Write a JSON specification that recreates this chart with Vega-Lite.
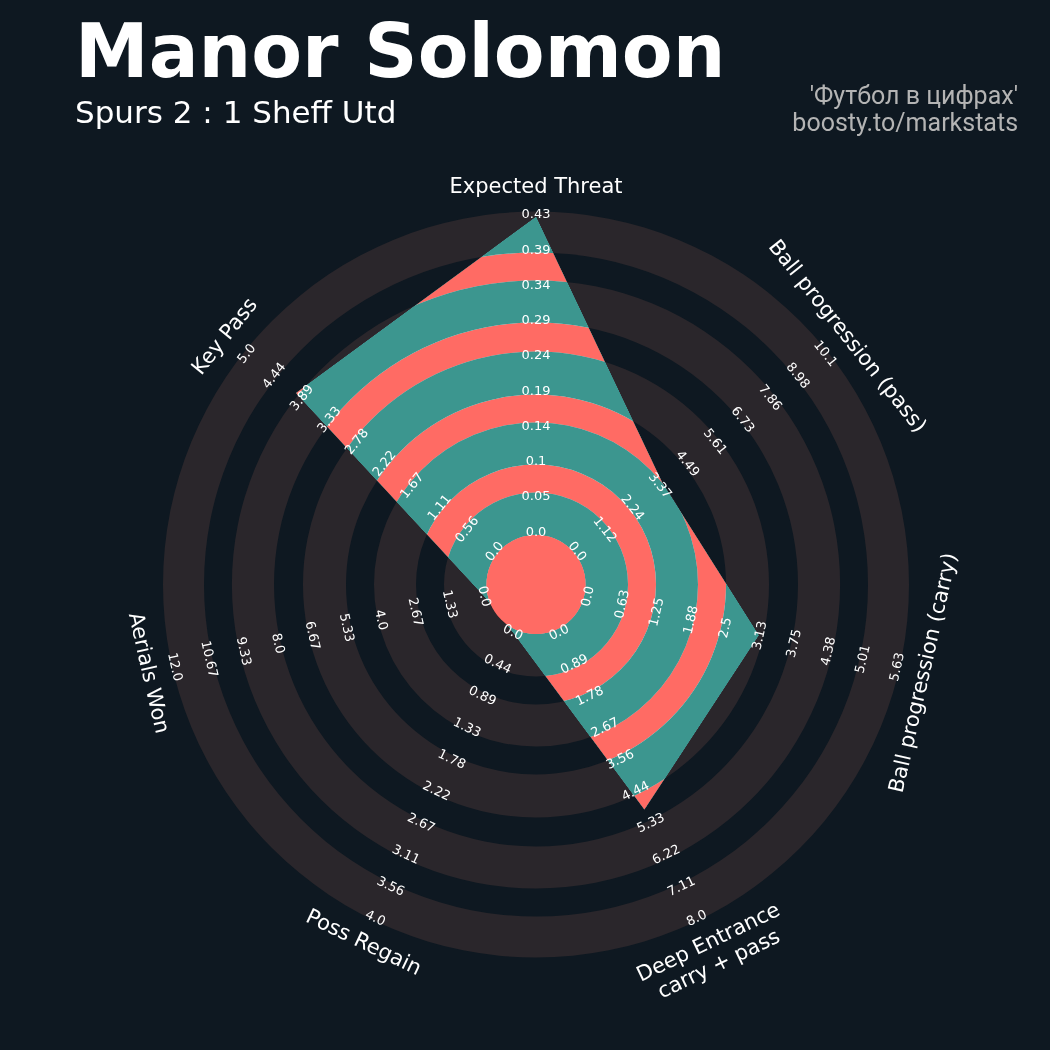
{
  "$schema": "https://vega.github.io/schema/vega-lite/v6.json",
  "width": 900,
  "height": 900,
  "autosize": {"type": "none"},
  "padding": {"left": 86, "top": 134.5, "right": 64, "bottom": 15.5},
  "background": "#0e1821",
  "config": {"view": {"stroke": null}, "font": "DejaVu Sans"},
  "title": {
    "text": "Manor Solomon",
    "subtitle": "Spurs 2 : 1 Sheff Utd",
    "anchor": "start",
    "frame": "group",
    "orient": "top",
    "dx": -11,
    "offset": -46,
    "font": "DejaVu Sans",
    "fontSize": 74,
    "fontWeight": "bold",
    "color": "#ffffff",
    "subtitleFont": "DejaVu Sans",
    "subtitleFontSize": 31,
    "subtitleColor": "#ffffff",
    "subtitlePadding": 6
  },
  "datasets": {
    "bands": [
      {"r0": 0, "r1": 1.327, "band": "center"},
      {"r0": 1.327, "r1": 2.466, "band": "ring"},
      {"r0": 2.466, "r1": 3.217, "band": "gap"},
      {"r0": 3.217, "r1": 4.343, "band": "ring"},
      {"r0": 4.343, "r1": 5.094, "band": "gap"},
      {"r0": 5.094, "r1": 6.247, "band": "ring"},
      {"r0": 6.247, "r1": 7.024, "band": "gap"},
      {"r0": 7.024, "r1": 8.15, "band": "ring"},
      {"r0": 8.15, "r1": 8.901, "band": "gap"},
      {"r0": 8.901, "r1": 10, "band": "ring"}
    ],
    "params": [
      {"k": 0, "param": "Expected Threat", "value": 0.426, "max": 0.43},
      {"k": 1, "param": "Ball progression (pass)", "value": 3.47, "max": 10.1},
      {"k": 2, "param": "Ball progression (carry)", "value": 3.11, "max": 5.63},
      {"k": 3, "param": "Deep Entrance\ncarry + pass", "value": 4.96, "max": 8.0},
      {"k": 4, "param": "Poss Regain", "value": 0, "max": 4.0},
      {"k": 5, "param": "Aerials Won", "value": 0, "max": 12.0},
      {"k": 6, "param": "Key Pass", "value": 4.0, "max": 5.0}
    ],
    "ticks": [
      {"k": 0, "i": 0, "t": "0.0"}, {"k": 0, "i": 1, "t": "0.05"}, {"k": 0, "i": 2, "t": "0.1"}, {"k": 0, "i": 3, "t": "0.14"}, {"k": 0, "i": 4, "t": "0.19"},
      {"k": 0, "i": 5, "t": "0.24"}, {"k": 0, "i": 6, "t": "0.29"}, {"k": 0, "i": 7, "t": "0.34"}, {"k": 0, "i": 8, "t": "0.39"}, {"k": 0, "i": 9, "t": "0.43"},
      {"k": 1, "i": 0, "t": "0.0"}, {"k": 1, "i": 1, "t": "1.12"}, {"k": 1, "i": 2, "t": "2.24"}, {"k": 1, "i": 3, "t": "3.37"}, {"k": 1, "i": 4, "t": "4.49"},
      {"k": 1, "i": 5, "t": "5.61"}, {"k": 1, "i": 6, "t": "6.73"}, {"k": 1, "i": 7, "t": "7.86"}, {"k": 1, "i": 8, "t": "8.98"}, {"k": 1, "i": 9, "t": "10.1"},
      {"k": 2, "i": 0, "t": "0.0"}, {"k": 2, "i": 1, "t": "0.63"}, {"k": 2, "i": 2, "t": "1.25"}, {"k": 2, "i": 3, "t": "1.88"}, {"k": 2, "i": 4, "t": "2.5"},
      {"k": 2, "i": 5, "t": "3.13"}, {"k": 2, "i": 6, "t": "3.75"}, {"k": 2, "i": 7, "t": "4.38"}, {"k": 2, "i": 8, "t": "5.01"}, {"k": 2, "i": 9, "t": "5.63"},
      {"k": 3, "i": 0, "t": "0.0"}, {"k": 3, "i": 1, "t": "0.89"}, {"k": 3, "i": 2, "t": "1.78"}, {"k": 3, "i": 3, "t": "2.67"}, {"k": 3, "i": 4, "t": "3.56"},
      {"k": 3, "i": 5, "t": "4.44"}, {"k": 3, "i": 6, "t": "5.33"}, {"k": 3, "i": 7, "t": "6.22"}, {"k": 3, "i": 8, "t": "7.11"}, {"k": 3, "i": 9, "t": "8.0"},
      {"k": 4, "i": 0, "t": "0.0"}, {"k": 4, "i": 1, "t": "0.44"}, {"k": 4, "i": 2, "t": "0.89"}, {"k": 4, "i": 3, "t": "1.33"}, {"k": 4, "i": 4, "t": "1.78"},
      {"k": 4, "i": 5, "t": "2.22"}, {"k": 4, "i": 6, "t": "2.67"}, {"k": 4, "i": 7, "t": "3.11"}, {"k": 4, "i": 8, "t": "3.56"}, {"k": 4, "i": 9, "t": "4.0"},
      {"k": 5, "i": 0, "t": "0.0"}, {"k": 5, "i": 1, "t": "1.33"}, {"k": 5, "i": 2, "t": "2.67"}, {"k": 5, "i": 3, "t": "4.0"}, {"k": 5, "i": 4, "t": "5.33"},
      {"k": 5, "i": 5, "t": "6.67"}, {"k": 5, "i": 6, "t": "8.0"}, {"k": 5, "i": 7, "t": "9.33"}, {"k": 5, "i": 8, "t": "10.67"}, {"k": 5, "i": 9, "t": "12.0"},
      {"k": 6, "i": 0, "t": "0.0"}, {"k": 6, "i": 1, "t": "0.56"}, {"k": 6, "i": 2, "t": "1.11"}, {"k": 6, "i": 3, "t": "1.67"}, {"k": 6, "i": 4, "t": "2.22"},
      {"k": 6, "i": 5, "t": "2.78"}, {"k": 6, "i": 6, "t": "3.33"}, {"k": 6, "i": 7, "t": "3.89"}, {"k": 6, "i": 8, "t": "4.44"}, {"k": 6, "i": 9, "t": "5.0"}
    ],
    "credit": [{"c": "'Футбол в цифрах'\nboosty.to/markstats"}]
  },
  "resolve": {"scale": {"radius": "independent", "theta": "independent", "color": "independent"}},
  "layer": [
    {
      "data": {"name": "bands"},
      "transform": [{"filter": "datum.band === 'ring'"}],
      "mark": {"type": "arc", "theta": 0, "theta2": 6.2832, "fill": "#2a262b"},
      "encoding": {
        "radius": {"field": "r1", "type": "quantitative", "scale": {"type": "linear", "domain": [0, 10], "range": [0, 373], "zero": true, "nice": false}},
        "radius2": {"field": "r0"}
      }
    },
    {
      "data": {"name": "params"},
      "transform": [
        {"calculate": "1.421 + 8.51 * datum.value / datum.max", "as": "rr"},
        {"calculate": "datum.k * 2 * PI / 7", "as": "a"},
        {"calculate": "datum.rr * sin(datum.a)", "as": "px"},
        {"calculate": "datum.rr * cos(datum.a)", "as": "py"}
      ],
      "mark": {"type": "line", "fill": "#ffffff", "stroke": "#ffffff", "strokeWidth": 0, "interpolate": "linear-closed"},
      "encoding": {
        "x": {"field": "px", "type": "quantitative", "scale": {"domain": [-12.064, 12.064], "nice": false, "zero": false}, "axis": null},
        "y": {"field": "py", "type": "quantitative", "scale": {"domain": [-12.064, 12.064], "nice": false, "zero": false}, "axis": null},
        "order": {"field": "k", "type": "quantitative"}
      }
    },
    {
      "data": {"name": "bands"},
      "mark": {"type": "arc", "theta": 0, "theta2": 6.2832, "blend": "darken"},
      "encoding": {
        "radius": {"field": "r1", "type": "quantitative", "scale": {"type": "linear", "domain": [0, 10], "range": [0, 373], "zero": true, "nice": false}},
        "radius2": {"field": "r0"},
        "color": {"field": "band", "type": "nominal", "scale": {"domain": ["center", "ring", "gap"], "range": ["#ff6b64", "#3c968f", "#ff6b64"]}, "legend": null}
      }
    },
    {
      "data": {"name": "bands"},
      "transform": [{"filter": "datum.band === 'center'"}],
      "mark": {"type": "arc", "theta": 0, "theta2": 6.2832, "fill": "#ff6b64"},
      "encoding": {
        "radius": {"field": "r1", "type": "quantitative", "scale": {"type": "linear", "domain": [0, 10], "range": [0, 373], "zero": true, "nice": false}},
        "radius2": {"field": "r0"}
      }
    },
    {
      "data": {"name": "ticks"},
      "transform": [
        {"calculate": "datum.k * 360 / 7", "as": "deg"},
        {"calculate": "(datum.deg > 90 && datum.deg < 270) ? datum.deg - 180 : datum.deg", "as": "rot"}
      ],
      "mark": {"type": "text", "align": "center", "baseline": "middle", "fontSize": 13, "font": "DejaVu Sans", "color": "#ffffff"},
      "encoding": {
        "theta": {"field": "k", "type": "quantitative", "stack": null, "scale": {"type": "linear", "domain": [0, 7], "range": [0, 6.283185], "zero": false, "nice": false}},
        "radius": {"field": "i", "type": "quantitative", "scale": {"type": "linear", "domain": [0, 9], "range": [53, 370.25], "zero": false, "nice": false}},
        "text": {"field": "t"},
        "angle": {"field": "rot", "type": "quantitative", "scale": null}
      }
    },
    {
      "data": {"name": "params"},
      "transform": [
        {"calculate": "datum.k * 360 / 7", "as": "deg"},
        {"calculate": "(datum.deg > 90 && datum.deg < 270) ? datum.deg - 180 : datum.deg", "as": "rot"}
      ],
      "mark": {"type": "text", "align": "center", "baseline": "middle", "fontSize": 21, "font": "DejaVu Sans", "color": "#ffffff", "lineBreak": "\n", "lineHeight": 24},
      "encoding": {
        "theta": {"field": "k", "type": "quantitative", "stack": null, "scale": {"type": "linear", "domain": [0, 7], "range": [0, 6.283185], "zero": false, "nice": false}},
        "radius": {"datum": 9.78, "type": "quantitative", "scale": {"type": "linear", "domain": [0, 9], "range": [53, 370.25], "zero": false, "nice": false}},
        "text": {"field": "param"},
        "angle": {"field": "rot", "type": "quantitative", "scale": null}
      }
    },
    {
      "data": {"name": "credit"},
      "mark": {"type": "text", "align": "right", "baseline": "alphabetic", "fontSize": 25, "font": "Roboto", "color": "#b4b4b4", "lineBreak": "\n", "lineHeight": 27},
      "encoding": {
        "x": {"datum": 12.923, "type": "quantitative", "scale": {"domain": [-12.064, 12.064], "nice": false, "zero": false}},
        "y": {"datum": 12.882, "type": "quantitative", "scale": {"domain": [-12.064, 12.064], "nice": false, "zero": false}},
        "text": {"field": "c"}
      }
    }
  ]
}
